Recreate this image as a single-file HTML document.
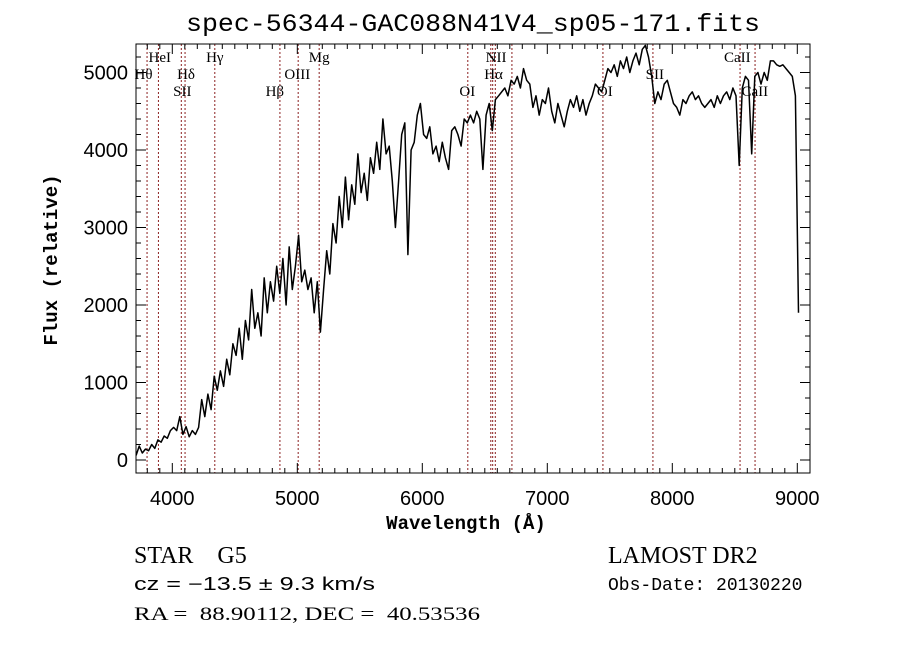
<!DOCTYPE html>
<html><head><meta charset="utf-8"><style>
body{margin:0;background:#fff;}
svg{display:block;}
text{white-space:pre;}
.t{font-family:"Liberation Sans",sans-serif;}
.m{font-family:"Liberation Mono",monospace;}
.s{font-family:"Liberation Serif",serif;}
</style></head><body>
<svg id="c" width="900" height="649" viewBox="0 0 900 649">
<rect width="900" height="649" fill="#fff"/>
<text x="186" y="31" textLength="574" lengthAdjust="spacingAndGlyphs" class="m" font-size="25">spec-56344-GAC088N41V4_sp05-171.fits</text>
<g id="lines"></g>
<g id="labels"></g>
<path id="spec" fill="none" stroke="#000" stroke-width="1.5" stroke-linejoin="round"/>
<rect x="136" y="44" width="674" height="429" fill="none" stroke="#000" stroke-width="1"/>
<g id="ticks" stroke="#000" stroke-width="1"></g>
<g id="ticklabels" class="t" font-size="20"></g>
<text x="466" y="529" text-anchor="middle" class="m" font-size="19" font-weight="bold">Wavelength (Å)</text>
<text transform="translate(57,260) rotate(-90)" text-anchor="middle" class="m" font-size="19" font-weight="bold">Flux (relative)</text>
<text x="134" y="563" class="s" font-size="24" xml:space="preserve">STAR    G5</text>
<text x="134" y="590" textLength="241" lengthAdjust="spacingAndGlyphs" class="t" font-size="18">cz = −13.5 ± 9.3 km/s</text>
<text x="134" y="620" textLength="346" lengthAdjust="spacingAndGlyphs" class="s" font-size="19" xml:space="preserve">RA =  88.90112, DEC =  40.53536</text>
<text x="608" y="563" class="s" font-size="24">LAMOST DR2</text>
<text x="608" y="590" class="m" font-size="18">Obs-Date: 20130220</text>
</svg>
<script>
const startWave = 3710;
const stepWave = 25;
const flux = [
60,180,90,140, 120,200,150,260, 230,310,280,380, 420,380,560,330,
430,300,380,330, 420,780,560,850, 650,1080,900,1150, 950,1300,1100,1500,
1350,1700,1300,1800, 1550,2200,1700,1900, 1600,2350,1900,2300, 2050,2500,2150,2600,
2000,2750,2200,2500, 2900,2300,2450,2200, 2350,1900,2300,1650, 2200,2700,2400,3050,
2800,3400,3000,3650, 3100,3550,3300,3950, 3450,3700,3350,3900, 3700,4100,3750,4400,
3950,4050,3600,3000, 3600,4200,4350,2650, 4000,4100,4450,4600, 4200,4150,4300,3950,
4050,3850,4100,3900, 3750,4250,4300,4200, 4050,4400,4350,4450, 4350,4500,4400,3750,
4450,4600,4250,4650, 4700,4750,4800,4700, 4900,4850,4950,4800, 5050,4900,4850,4550,
4700,4450,4650,4600, 4800,4500,4350,4600, 4450,4300,4500,4650, 4550,4700,4500,4650,
4450,4600,4700,4850, 4800,4750,4900,5050, 5000,5100,4950,5150, 5050,5200,5000,5150,
5250,5100,5300,5350, 5200,4950,4600,4750, 4650,4850,4900,4750, 4600,4550,4450,4650,
4600,4700,4750,4650, 4700,4600,4550,4600, 4650,4550,4700,4600, 4700,4750,4650,4800,
4700,3800,4800,4950, 4900,3950,4950,5000, 4850,5000,4900,5150, 5150,5100,5080,5100,
5050,5000,4950,4700, 1900];
const lineWaves = [3798,3889,4072,4102,4340,4861,5007,5175,6364,6548,6563,6584,6717,7445,7845,8542,8662];
const labelTexts = ["Hθ","HeI","SII","Hδ","Hγ","Hβ","OIII","Mg","OI","NII","Hα","OI","SII","CaII","CaII"];
const labelWaves = [3770,3900,4080,4110,4340,4820,5000,5175,6360,6590,6570,7460,7860,8520,8660];
const labelRows = [1,0,2,1,0,2,1,0,2,0,1,2,1,0,2];
const xTicks = [4000,5000,6000,7000,8000,9000];
const yTicks = [0,1000,2000,3000,4000,5000];

const X = w => 172.3 + (w-4000)*0.125;
const Y = f => 460 - f*0.0775;
const NS='http://www.w3.org/2000/svg';
function mk(tag,attrs,parent){const e=document.createElementNS(NS,tag);for(const k in attrs)e.setAttribute(k,attrs[k]);parent.appendChild(e);return e;}

let d='';
flux.forEach((f,i)=>{const w=startWave+i*stepWave;d+=(i?'L':'M')+X(w).toFixed(1)+' '+Y(f).toFixed(1);});
document.getElementById('spec').setAttribute('d',d);

const lg=document.getElementById('lines');
lineWaves.forEach(w=>{
  const l=mk('line',{x1:X(w),x2:X(w),y1:44,y2:473,stroke:'#8b2020','stroke-width':1,'stroke-dasharray':'2,2'},lg);
  
  
});
const lb=document.getElementById('labels');
labelTexts.forEach((t,i)=>{
  const e=mk('text',{x:X(labelWaves[i]),y:62+labelRows[i]*17,'text-anchor':'middle','font-size':15,'font-family':'"Liberation Serif",serif'},lb);
  e.textContent=t;
  
  
});

const tg=document.getElementById('ticks');
for(let w=3800;w<=9000;w+=100){
  const big=w%1000===0, L=big?10:5;
  mk('line',{x1:X(w),x2:X(w),y1:473,y2:473-L},tg);
  mk('line',{x1:X(w),x2:X(w),y1:44,y2:44+L},tg);
}
for(let f=0;f<=5200;f+=200){
  const big=f%1000===0, L=big?10:5;
  mk('line',{x1:136,x2:136+L,y1:Y(f),y2:Y(f)},tg);
  mk('line',{x1:810,x2:810-L,y1:Y(f),y2:Y(f)},tg);
}
const tl=document.getElementById('ticklabels');
xTicks.forEach(w=>{
  const e=mk('text',{x:X(w),y:505,'text-anchor':'middle'},tl);
  e.textContent=w;
  
  
});
yTicks.forEach(f=>{
  const e=mk('text',{x:128,y:Y(f)+7,'text-anchor':'end'},tl);
  e.textContent=f;
  
  
});
</script>
</body></html>
